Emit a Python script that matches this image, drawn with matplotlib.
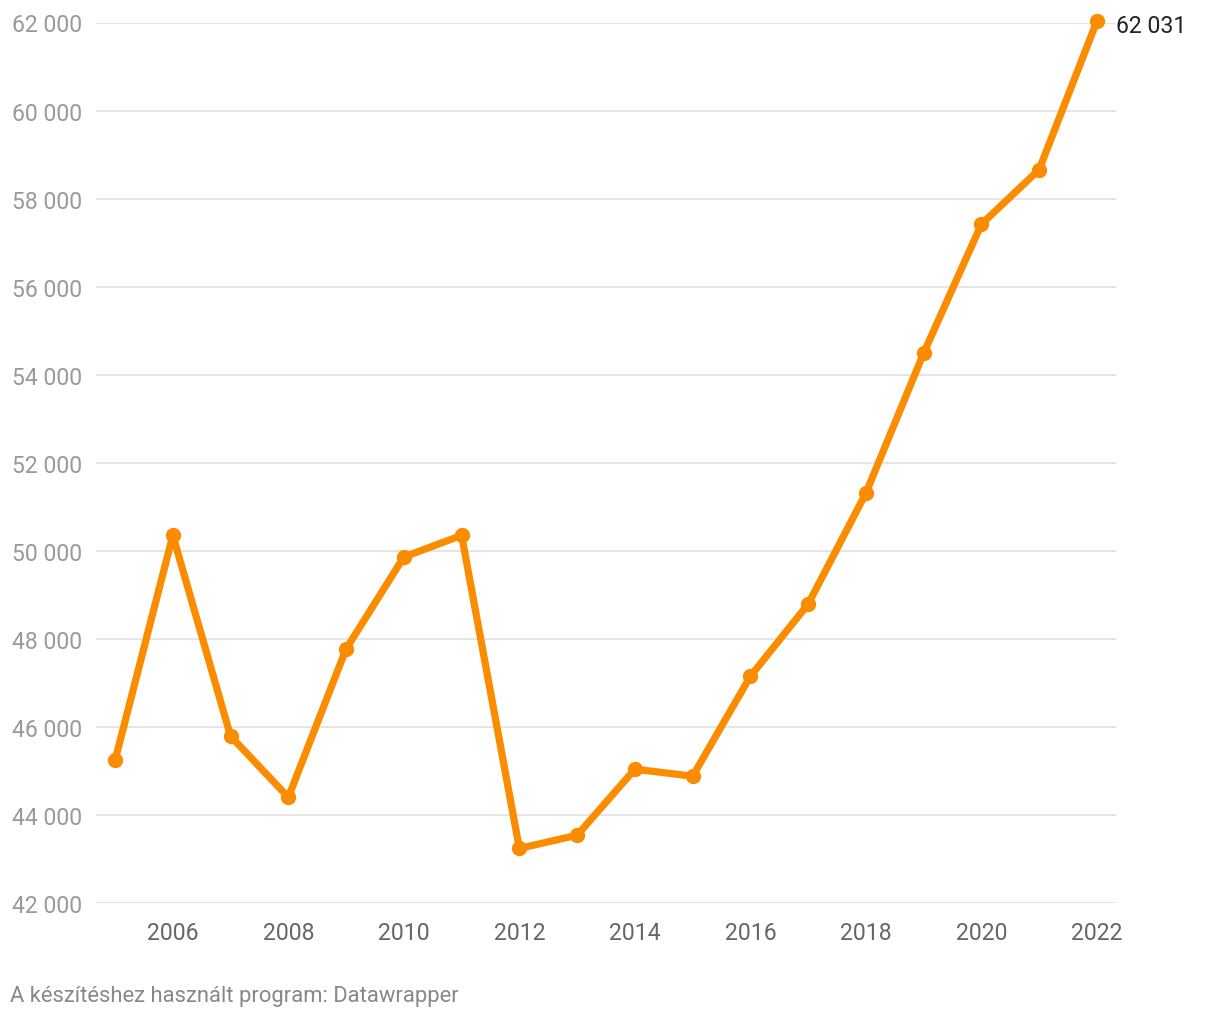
import matplotlib

matplotlib.use("Agg")
import matplotlib.pyplot as plt
from matplotlib.ticker import FuncFormatter

plt.rcParams["font.family"] = ["Roboto", "DejaVu Sans"]

years = list(range(2005, 2023))
values = [45240, 50350, 45790, 44400, 47770, 49860, 50350, 43240, 43540,
          45040, 44880, 47150, 48790, 51310, 54490, 57420, 58660, 62031]
y_ticks = list(range(42000, 62001, 2000))
x_ticks = list(range(2006, 2023, 2))

ORANGE = "#fb8c00"


def spaced(v, _pos=None):
    return f"{int(v):,}".replace(",", " ")


fig = plt.figure(figsize=(12.2, 10.2), dpi=100)
ax = fig.add_axes([96 / 1220, 1 - 904 / 1020, 1020 / 1220, 880.5 / 1020])

ax.plot(years, values, color=ORANGE, lw=5.2, marker="o", ms=10,
        solid_joinstyle="round", solid_capstyle="round", clip_on=False, zorder=3)

ax.set_xlim(2004.67, 2022.33)
ax.set_ylim(42000, 62000)
ax.set_yticks(y_ticks)
ax.set_xticks(x_ticks)
ax.yaxis.set_major_formatter(FuncFormatter(spaced))
ax.grid(axis="y", color="#e3e3e3", lw=1.3)
ax.set_axisbelow(True)
for s in ax.spines.values():
    s.set_visible(False)
ax.tick_params(axis="both", length=0)
ax.tick_params(axis="y", labelsize=16.6, labelcolor="#999999", pad=10)
ax.tick_params(axis="x", labelsize=16.6, labelcolor="#666666", pad=13)

ax.annotate(spaced(values[-1]), (years[-1], values[-1]), xytext=(14, -3),
            textcoords="offset points", va="center", ha="left",
            fontsize=16.6, color="#222222", annotation_clip=False)

fig.text(10 / 1220, 1 - 997 / 1020, "A készítéshez használt program: Datawrapper",
         fontsize=15.8, color="#888888", va="center", ha="left")

fig.savefig("out.png", dpi=100, facecolor="white")
